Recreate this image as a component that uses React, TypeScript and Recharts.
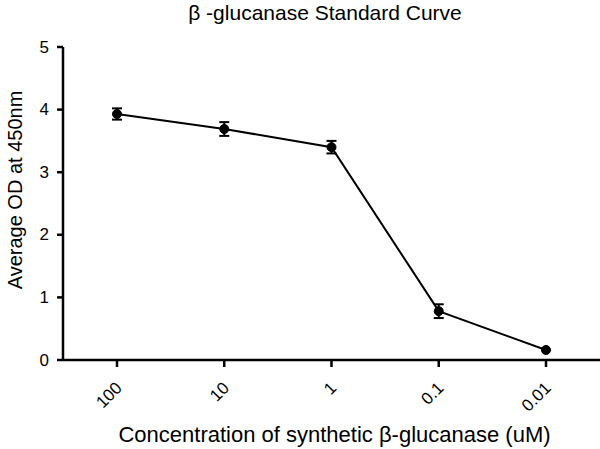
import React from "react";
import { LineChart, Line, XAxis, YAxis, ErrorBar, Label } from "recharts";

const categories = ["100", "10", "1", "0.1", "0.01"];
const meanOD = [3.93, 3.69, 3.40, 0.78, 0.16];
const errOD = [0.09, 0.11, 0.1, 0.11, 0];
const yTicks = [0, 1, 2, 3, 4, 5];

const data = categories.map((c, i) => ({ conc: c, od: meanOD[i], err: errOD[i] }));

const FONT = "'Liberation Sans', Arial, Helvetica, sans-serif";

const XTick = (props: any) => {
  const { x, y, payload } = props;
  const ax = x + 6;
  const ay = y + 20;
  return (
    <text
      x={ax}
      y={ay}
      transform={`rotate(-45, ${ax}, ${ay})`}
      textAnchor="end"
      fontSize={17}
      fontFamily={FONT}
      fill="#000"
    >
      {payload.value}
    </text>
  );
};

const YTick = (props: any) => {
  const { x, y, payload } = props;
  return (
    <text
      x={x}
      y={y}
      textAnchor="end"
      dominantBaseline="central"
      fontSize={17}
      fontFamily={FONT}
      fill="#000"
    >
      {payload.value}
    </text>
  );
};

const YLabel = () => (
  <text
    x={15}
    y={190}
    transform="rotate(-90, 15, 190)"
    textAnchor="middle"
    dominantBaseline="central"
    fontSize={20}
    fontFamily={FONT}
    fill="#000"
  >
    Average OD at 450nm
  </text>
);

export default function App() {
  return (
    <div style={{ position: "absolute", left: 0, top: 0, width: 600, height: 449, background: "#fff" }}>
      <div
        style={{
          position: "absolute",
          left: 0,
          width: 650,
          top: 1,
          textAlign: "center",
          fontFamily: FONT,
          fontSize: 21,
          color: "#000",
          whiteSpace: "nowrap",
        }}
      >
        β -glucanase Standard Curve
      </div>
      <LineChart
        width={600}
        height={449}
        data={data}
        margin={{ top: 47, right: 0, bottom: 0, left: 0 }}
        style={{ fontFamily: FONT, position: "absolute", left: 0, top: 0 }}
      >
        <XAxis
          dataKey="conc"
          height={89}
          padding={{ left: 54, right: 54 }}
          stroke="#000"
          strokeWidth={2.5}
          tickSize={7}
          tickLine={{ stroke: "#000", strokeWidth: 2.5 }}
          tick={<XTick />}
          interval={0}
        >
          <Label
            value="Concentration of synthetic β-glucanase (uM)"
            position="insideBottom"
            offset={7}
            fontSize={22}
            fill="#000"
            dx={3}
          />
        </XAxis>
        <YAxis
          width={63}
          domain={[0, 5]}
          ticks={yTicks}
          stroke="#000"
          strokeWidth={2.5}
          tickSize={6}
          tickMargin={8}
          tickLine={{ stroke: "#000", strokeWidth: 2.5 }}
          tick={<YTick />}
        >
          <Label content={<YLabel />} />
        </YAxis>
        <Line
          type="linear"
          dataKey="od"
          stroke="#000"
          strokeWidth={2}
          dot={{ r: 4.5, fill: "#000", stroke: "#000", strokeWidth: 1 }}
          isAnimationActive={false}
        >
          <ErrorBar dataKey="err" width={5} stroke="#000" strokeWidth={2} direction="y" />
        </Line>
      </LineChart>
    </div>
  );
}
